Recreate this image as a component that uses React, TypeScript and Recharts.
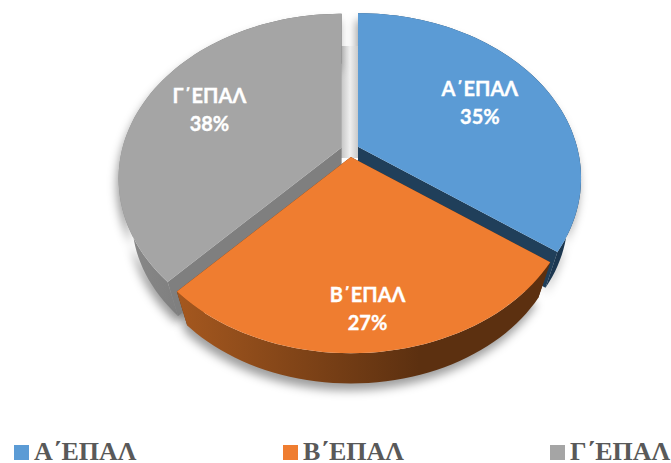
import { Legend, Pie, PieChart } from "recharts";

const categories = ["Α΄ΕΠΑΛ", "Β΄ΕΠΑΛ", "Γ΄ΕΠΑΛ"];
const shares = [35, 27, 38];
const topColors = ["#5b9bd5", "#ef7d30", "#a5a5a5"];
const faceColors = ["#203f5a", "#5f3110", "#7f7f7f"];
const wallFrom = ["#2a4f70", "#a5581f", "#8a8a8a"];
const wallTo = ["#1c3750", "#5c3010", "#6f6f6f"];
const labelReach = [0.66, 0.81, 0.68];
const labelNudge = [0, -3, 0];
const legendLeft = [14, 283, 550];

const data = categories.map((name, i) => ({ name, value: shares[i] }));

const RADIUS = 219;
const SQUASH = 159 / 219;
const TILT = 0.19;
const DEPTH = 42;
const BASE_SCALE = 0.94;
const EXPLODE_X = 9;
const EXPLODE_Y = 7;

const rad = (deg: number) => (deg * Math.PI) / 180;

// perspective view of a point on the pie, theta clockwise from the top
function project(theta: number, r: number, radius: number) {
  const u = r * Math.sin(rad(theta));
  const v = -r * Math.cos(rad(theta));
  const w = 1 - TILT * v;
  return {
    x: (radius * u) / w,
    y: (radius * SQUASH * v) / w,
  };
}

// the base of the disc sits lower and looks a little smaller
const toBase = (p: { x: number; y: number }) => ({
  x: p.x * BASE_SCALE,
  y: p.y * BASE_SCALE + DEPTH,
});

function sliceGeometry(props: any) {
  const from = 90 - props.startAngle;
  const to = 90 - props.endAngle;
  const mid = (from + to) / 2;
  const ox = props.cx + EXPLODE_X * Math.sin(rad(mid));
  const oy = props.cy - EXPLODE_Y * Math.cos(rad(mid));
  const rim = [];
  for (let t = from; t < to; t += 2) rim.push(project(t, 1, props.outerRadius));
  rim.push(project(to, 1, props.outerRadius));
  return { ox, oy, rim };
}

const pts = (list: { x: number; y: number }[]) =>
  list.map((p) => `${p.x.toFixed(1)},${p.y.toFixed(1)}`).join(" ");

function makeSlice(layer: "shadow" | "back" | "front") {
  return function Slice(props: any) {
    const i = categories.indexOf(props.name);
    const { ox, oy, rim } = sliceGeometry(props);
    const lower = rim.map(toBase);
    const apex = { x: 0, y: 0 };
    const apexLow = toBase(apex);

    if (layer === "shadow") {
      return (
        <g>
          <defs>
            <filter id={`blur${i}`} x="-20%" y="-20%" width="140%" height="140%">
              <feGaussianBlur stdDeviation="5" />
            </filter>
            <linearGradient id="gapShade" x1="0" x2="1" y1="0" y2="0">
              <stop offset="0" stopColor="#c4c4c4" />
              <stop offset="0.5" stopColor="#efefef" />
              <stop offset="1" stopColor="#c4c4c4" />
            </linearGradient>
          </defs>
          <polygon
            transform={`translate(${ox - 2},${oy + 7})`}
            points={pts([apex, ...rim, ...lower.slice().reverse()])}
            fill="#000"
            fillOpacity={0.38}
            filter={`url(#blur${i})`}
          />
          {i === 0 && (
            <rect x={props.cx - 9} y={props.cy - 104} width={18} height={112} fill="url(#gapShade)" />
          )}
        </g>
      );
    }

    const isFront = i === 1;
    if ((layer === "front") !== isFront) return <g />;

    const first = rim[0];
    const last = rim[rim.length - 1];
    const wallId = `wall${i}`;
    return (
      <g transform={`translate(${ox},${oy})`}>
        <defs>
          <linearGradient id={wallId} x1="0" x2="1" y1="0" y2="0">
            <stop offset="0" stopColor={wallFrom[i]} />
            <stop offset="0.65" stopColor={wallTo[i]} />
          </linearGradient>
        </defs>
        <polygon points={pts([apex, first, toBase(first), apexLow])} fill={faceColors[i]} />
        <polygon points={pts([apex, last, toBase(last), apexLow])} fill={faceColors[i]} />
        <polygon points={pts([...rim, ...lower.slice().reverse()])} fill={`url(#${wallId})`} />
        <polygon points={pts([apex, ...rim])} fill={topColors[i]} />
      </g>
    );
  };
}

function SliceLabel(props: any) {
  const i = categories.indexOf(props.name);
  const mid = 90 - props.midAngle;
  const p = project(mid, labelReach[i], RADIUS);
  const x = props.cx + EXPLODE_X * Math.sin(rad(mid)) + p.x + labelNudge[i];
  const y = props.cy - EXPLODE_Y * Math.cos(rad(mid)) + p.y;
  return (
    <text
      x={x}
      y={y}
      textAnchor="middle"
      fill="#ffffff"
      stroke="#ffffff"
      strokeWidth={0.35}
      fontFamily="Lato, sans-serif"
      fontWeight={700}
      fontSize={20}
    >
      <tspan x={x} dy={-6}>
        {props.name}
      </tspan>
      <tspan x={x} dy={28}>
        {props.value}%
      </tspan>
    </text>
  );
}

function LegendRow() {
  return (
    <div style={{ position: "relative", width: 671, height: 22 }}>
      {categories.map((name, i) => (
        <div
          key={name}
          style={{
            position: "absolute",
            left: legendLeft[i],
            top: 0,
            display: "flex",
            alignItems: "center",
            whiteSpace: "nowrap",
            fontFamily: "'Liberation Serif', serif",
            fontWeight: 700,
            fontSize: 26,
            lineHeight: "22px",
            color: "#595959",
          }}
        >
          <span
            style={{
              display: "inline-block",
              width: 15,
              height: 15,
              marginRight: 5,
              background: topColors[i],
            }}
          />
          {name}
        </div>
      ))}
    </div>
  );
}

export default function App() {
  const pieProps = {
    data,
    dataKey: "value",
    nameKey: "name",
    cx: 350,
    cy: 150,
    outerRadius: RADIUS,
    startAngle: 90,
    endAngle: -270,
    stroke: "none",
    isAnimationActive: false,
    legendType: "none" as const,
    labelLine: false,
  };
  return (
    <div style={{ position: "absolute", left: 0, top: 0, width: 671, height: 463, overflow: "hidden" }}>
      <PieChart width={671} height={463} margin={{ top: 0, right: 0, bottom: 0, left: 0 }}>
        <Pie {...pieProps} shape={makeSlice("shadow")} />
        <Pie {...pieProps} shape={makeSlice("back")} />
        <Pie {...pieProps} shape={makeSlice("front")} label={SliceLabel} />
        <Legend
          content={<LegendRow />}
          wrapperStyle={{ left: 0, top: 441, width: 671, height: 22 }}
        />
      </PieChart>
    </div>
  );
}
